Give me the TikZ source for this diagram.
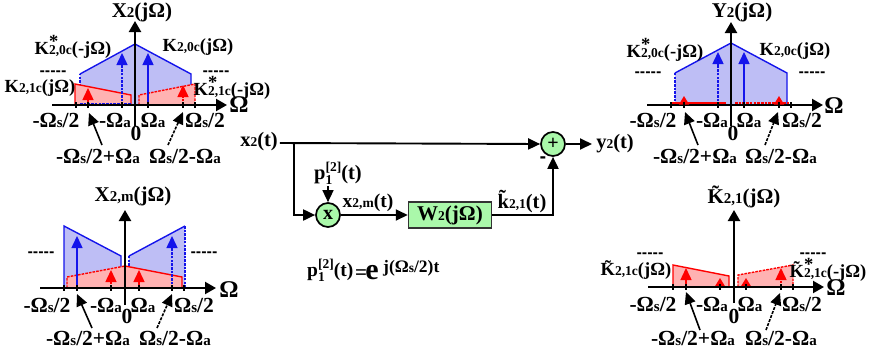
\documentclass[tikz,border=0pt]{standalone}
\usepackage{fontspec}
\setmainfont{Liberation Serif}[BoldFont=Liberation Serif Bold]
\newfontfamily\dotfont{DejaVu Sans Bold}
\usetikzlibrary{arrows.meta}
\definecolor{bfill}{RGB}{190,190,245}
\definecolor{rfill}{RGB}{255,178,178}
\definecolor{gfill}{RGB}{170,248,170}
\definecolor{bline}{RGB}{20,20,235}
\newcommand\sbs[1]{{\fontsize{13.5}{13.5}\selectfont #1}}
\newcommand\sbb[1]{{\fontsize{15}{15}\selectfont #1}}
\newcommand\Om{Ω}
\newcommand\Oms{Ω\sbb{s}}
\newcommand\Oma{Ω\sbb{a}}
\newcommand\Star{\rlap{\raisebox{6.5pt}{*}}}
\newcommand\Tk{\~{K}}
\newcommand\Pot{p\rlap{\raisebox{-5pt}{\sbs{1}}}\raisebox{8pt}{\sbs{[2]}}(t)}
\newcommand\Dots{-{}-{}-{}-{}-}
\tikzset{
  lab/.style={font=\fontsize{18.5}{19}\selectfont\bfseries,inner sep=0pt,text=black},
  big/.style={lab,font=\fontsize{21.5}{22}\selectfont\bfseries},
  ttl/.style={lab,font=\fontsize{21}{21}\selectfont\bfseries},
  mid/.style={lab,font=\fontsize{20.5}{21}\selectfont\bfseries},
  omg/.style={lab,font=\fontsize{24}{24}\selectfont\bfseries},
  ax/.style={line width=2.2pt,-{Triangle[length=11pt,width=12pt]},black},
  tk/.style={line width=1.5pt,black},
  callout/.style={line width=1.6pt,-{Triangle[length=12pt,width=11pt]},black},
  calloutd/.style={callout,dash pattern=on 3pt off 1.3pt},
  conn/.style={line width=1.9pt,-{Triangle[length=12pt,width=11pt]},black},
  sumcirc/.style={circle,draw=black,line width=1.7pt,fill=gfill,minimum size=24pt,inner sep=0pt,font=\fontsize{20}{20}\selectfont\bfseries},
  blk/.style={draw=black!80,line width=1.5pt,fill=gfill,minimum width=83pt,minimum height=26pt,inner sep=0pt,font=\fontsize{21}{21}\selectfont\bfseries},
  bluesp/.style={bline,line width=1.4pt},
  redsp/.style={red,line width=1.4pt},
  dsh/.style={dash pattern=on 2.6pt off 1.1pt},
  ba/.style={bline,line width=1.5pt,-{Triangle[length=12pt,width=11pt]}},
  ra/.style={red,line width=1.5pt,-{Triangle[length=12pt,width=11pt]}},
  ras/.style={red,line width=1.5pt,-{Triangle[length=8.5pt,width=10pt]}},
  dots/.style={inner sep=0pt,text=black,font=\dotfont\fontsize{13}{13}\selectfont},
}
% prefix, y, four label x, x of zero, y of zero
\newcommand\AxisLabels[8]{%
  \node[big] (#1a) at (#3,#2) {-\Oms/2};
  \node[big] (#1b) at (#4,#2) {-\Oma};
  \node[big] (#1c) at (#5,#2) {\Oma};
  \node[big] (#1d) at (#6,#2) {\Oms/2};
  \node[big] (#1z) at (#7,#8) {0};
}
% prefix, y, xl, xr, tip-left x, tip-left y, tip-right x, tip-right y
\newcommand\LowLabels[8]{%
  \node[big] (#1l) at (#3,#2) {-\Oms/2+\Oma};
  \node[big] (#1r) at (#4,#2) {\Oms/2-\Oma};
  \coordinate (#1tl) at (#5,#6);
  \coordinate (#1tr) at (#7,#8);
}
% axes: x-left, x-right, y-axis x, axis y, top, bottom
\newcommand\Axes[6]{%
  \draw[ax] (#1,#4) -- (#2,#4);
  \draw[ax] (#3,#6) -- (#3,#5);
}
\newcommand\Ticks[7]{%
  \foreach \t in {#2,#3,#4,#5,#6,#7} \draw[tk] (\t,#1-3) -- (\t,#1+3);
}
\begin{document}
\begin{tikzpicture}[x=1pt,y=-1pt]
\useasboundingbox (0,0) rectangle (870,354);
% ---------- top left
\fill[bfill] (80,105)--(80,74)--(135,44)--(191,74)--(191,105)--cycle;
\draw[bluesp] (80,74)--(135,44)--(191,74)--(191,105);
\draw[bluesp,dsh] (80,105)--(80,74);
\fill[rfill] (75,105)--(75,84)--(131,95)--(131,105)--cycle;
\fill[rfill] (139,105)--(139,95)--(195,84)--(195,105)--cycle;
\draw[redsp] (75,105)--(75,84)--(131,95)--(131,105);
\draw[redsp,dsh] (139,105)--(139,95)--(195,84)--(195,105);
\draw[bluesp,dsh] (80,104)--(131,104);
\draw[ba,dsh] (122,105)--(122,53);
\draw[ba] (148,105)--(148,53);
\draw[ra] (88,105)--(88,88);
\draw[ra,dsh] (183,105)--(183,85);
\Axes{52}{227}{135}{105}{21}{126}
\Ticks{105}{76}{88}{122}{148}{183}{195}
\node[ttl] (xt) at (142,12) {X\sbb{2}(j\Om)};
\node[lab] (k0l) at (73,47) {K\Star\sbs{2,0c}(-j\Om)};
\node[lab] (k0r) at (198,47) {K\sbs{2,0c}(j\Om)};
\node[dots] (d1) at (53,73) {\Dots};
\node[dots] (d2) at (216,73) {\Dots};
\node[lab] (k1l) at (40,88) {K\sbs{2,1c}(j\Om)};
\node[lab] (k1r) at (232,88) {K\Star\sbs{2,1c}(-j\Om)};
\node[omg] (o1) at (239,105) {\Om};
\AxisLabels{p}{120}{56}{115}{153}{205}{136}{133}
\LowLabels{p}{156}{98}{185}{89}{113}{183}{112}
\draw[callout] (102,145) -- (ptl);
\draw[calloutd] (168,145) -- (ptr);
% ---------- bottom left
\fill[bfill] (64,288)--(64,226)--(121,256)--(121,288)--cycle;
\fill[bfill] (129,288)--(129,256)--(185,226)--(185,288)--cycle;
\draw[bluesp] (64,288)--(64,226)--(121,256)--(121,288);
\draw[bluesp,dsh] (129,288)--(129,256);
\draw[bluesp] (129,256)--(185,226);
\draw[bluesp,dsh] (185,226)--(185,288);
\fill[rfill] (67,288)--(67,277)--(125,266)--(182,277)--(182,288)--cycle;
\draw[redsp,dsh] (67,288)--(67,277)--(125,266);
\draw[redsp] (125,266)--(182,277)--(182,288);
\draw[ba] (77,288)--(77,236);
\draw[ba,dsh] (172,288)--(172,236);
\draw[ra,dsh] (111,288)--(111,270);
\draw[ra] (139,288)--(139,270);
\Axes{40}{216}{125}{288}{210}{305}
\Ticks{288}{64}{77}{111}{139}{172}{184}
\node[ttl] (xm) at (133,196) {X\sbb{2,m}(j\Om)};
\node[dots] (d3) at (41,254) {\Dots};
\node[dots] (d4) at (204,254) {\Dots};
\node[omg] (o2) at (229,290) {\Om};
\AxisLabels{q}{305}{47}{106}{143}{194}{127}{316}
\LowLabels{q}{338}{88}{175}{77}{294}{172}{294}
\draw[callout] (92,328) -- (qtl);
\draw[calloutd] (157,328) -- (qtr);
% ---------- top right
\fill[bfill] (675,105)--(675,73)--(731,43)--(787,73)--(787,105)--cycle;
\draw[bluesp] (675,73)--(731,43)--(787,73)--(787,105);
\draw[bluesp,dsh] (675,105)--(675,73);
\draw[ba,dsh] (718,105)--(718,52);
\draw[ba] (744,105)--(744,52);
\Axes{647}{823}{731}{105}{22}{126}
\draw[red,line width=2.8pt] (671,103)--(726,103);
\draw[red,line width=2.8pt,dsh] (735,103)--(791,103);
\draw[ras] (684,105)--(684,96);
\draw[ras] (779,105)--(779,96);
\Ticks{105}{671}{684}{718}{744}{779}{791}
\node[ttl] (yt) at (742,12) {Y\sbb{2}(j\Om)};
\node[lab] (k0ly) at (665,50) {K\Star\sbs{2,0c}(-j\Om)};
\node[lab] (k0ry) at (795,51) {K\sbs{2,0c}(j\Om)};
\node[dots] (d5) at (648,74) {\Dots};
\node[dots] (d6) at (812,74) {\Dots};
\node[omg] (o3) at (834,106) {\Om};
\AxisLabels{r}{120}{653}{712}{749}{802}{733}{133}
\LowLabels{r}{156}{695}{781}{685}{112}{778}{112}
\draw[callout] (698,145) -- (rtl);
\draw[calloutd] (765,145) -- (rtr);
% ---------- bottom right
\fill[rfill] (673,287)--(673,265)--(729,276)--(729,287)--cycle;
\fill[rfill] (738,287)--(738,275)--(793,265)--(793,287)--cycle;
\draw[redsp] (673,287)--(673,265)--(729,276)--(729,287);
\draw[redsp,dsh] (738,287)--(738,275)--(793,265)--(793,287)--(738,287);
\draw[ra] (686,287)--(686,268);
\draw[ra,dsh] (781,287)--(781,268);
\draw[ras] (720,287)--(720,278);
\draw[ras] (746,287)--(746,278);
\Axes{648}{824}{734}{287}{210}{303}
\Ticks{287}{673}{686}{720}{746}{781}{793}
\node[ttl] (kt) at (744,197) {\Tk\sbb{2,1}(j\Om)};
\node[dots] (d7) at (650,255) {\Dots};
\node[dots] (d8) at (813,255) {\Dots};
\node[lab] (k1lt) at (636,270) {\Tk\sbs{2,1c}(j\Om)};
\node[lab] (k1rt) at (828,270) {\Tk\Star\sbs{2,1c}(-j\Om)};
\node[omg] (o4) at (836,288) {\Om};
\AxisLabels{s}{304}{653}{712}{750}{802}{734}{316}
\LowLabels{s}{338}{693}{781}{686}{292}{780}{293}
\draw[callout] (700,330) -- (stl);
\draw[calloutd] (766,330) -- (str);
% ---------- block diagram
\node[mid] (xin) at (259,142) {x\sbs{2}(t)};
\node[sumcirc] (sum) at (553,144) {+};
\node[sumcirc] (mul) at (328,215) {x};
\node[blk] (w) at (450,215) {W\sbs{2}(j\Om)};
\node[mid] (yout) at (615,144) {y\sbs{2}(t)};
\node[mid] (pl) at (338,173) {\Pot};
\node[lab,font=\fontsize{19.5}{20}\selectfont\bfseries] (xml) at (368,203) {x\sbs{2,m}(t)};
\node[mid] (kl) at (522,202) {\~{k}\sbs{2,1}(t)};
\node[dots,font=\dotfont\fontsize{16}{16}\selectfont] (minus) at (543,160) {-};
\coordinate (br) at (294,143);
\coordinate (pt) at (328,186);
\draw[conn] (xin.east) ++(2,1) -- (sum.west);
\draw[conn] (br) |- (mul.west);
\draw[conn,line width=1.5pt] (pt) -- (mul.north);
\draw[conn] (mul.east) -- (w.west);
\draw[conn] (w.east) -| (sum.south);
\coordinate (outend) at (592,144);
\draw[conn] (sum.east) -- (outend);
\node[lab,anchor=west,font=\fontsize{19.5}{20}\selectfont\bfseries] (f1) at (307,270) {\Pot};
\node[lab,font=\fontsize{21}{21}\selectfont\bfseries] (f2) at (361,275) {=};
\node[lab,font=\fontsize{30}{30}\selectfont\bfseries] (f3) at (372,273) {e};
\node[lab,anchor=west,font=\fontsize{17.5}{18}\selectfont\bfseries] (f4) at (383,268) {j(Ω\sbs{s}/2)t};
\end{tikzpicture}
\end{document}
